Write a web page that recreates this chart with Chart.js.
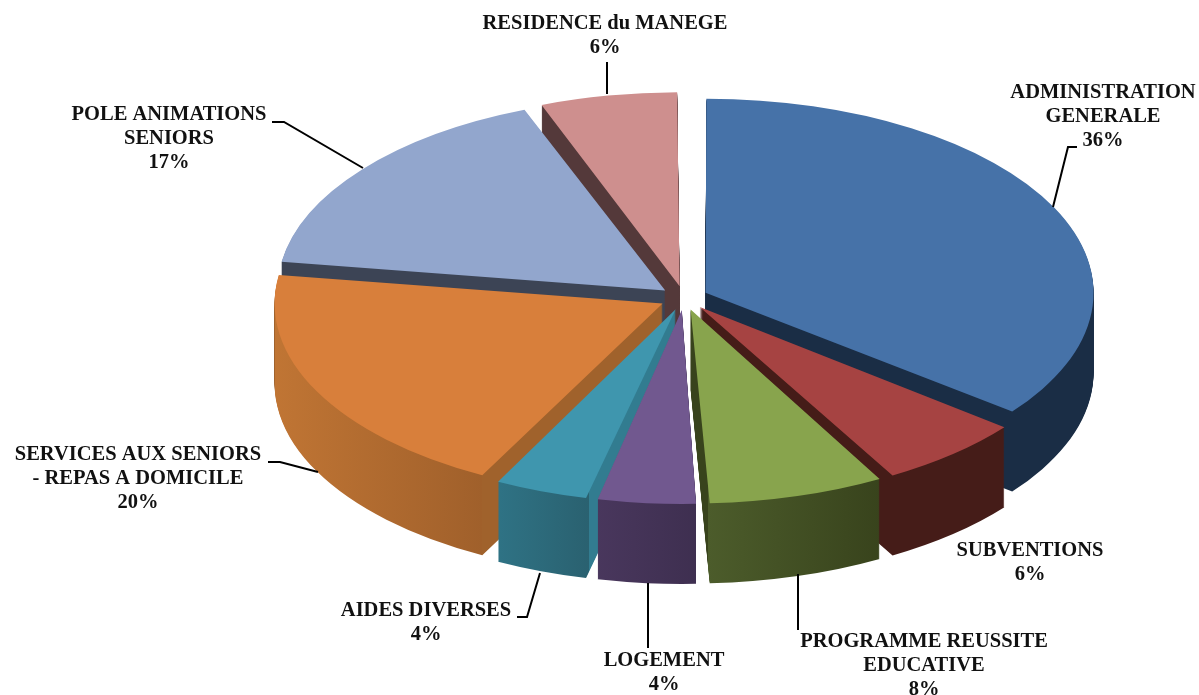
<!DOCTYPE html>
<html lang="fr">
<head>
  <meta charset="UTF-8" />
  <title>Répartition des dépenses</title>
  <script src="https://cdn.jsdelivr.net/npm/chart.js"></script>
  <style>
    html, body { margin: 0; padding: 0; background: #fff; overflow: hidden; }
    canvas { display: block; }
  </style>
</head>
<body>
<canvas id="pie" width="1199" height="695"></canvas>

<script>
  const categories = ['ADMINISTRATION GENERALE', 'SUBVENTIONS', 'PROGRAMME REUSSITE EDUCATIVE', 'LOGEMENT', 'AIDES DIVERSES', 'SERVICES AUX SENIORS - REPAS A DOMICILE', 'POLE ANIMATIONS SENIORS', 'RESIDENCE du MANEGE'];
  // shares, the labels show them rounded
  const values = [35.6, 6.3, 7.5, 4.3, 4.1, 19.7, 16.8, 5.9];
  const topColors = ['#4672a8', '#a64342', '#88a44d', '#71588f', '#3f96ae', '#d87f3b', '#92a6cd', '#ce8f8e'];
  const sideLeft = ['#1a2d45', '#451c18', '#4c5c2b', '#49375d', '#2f7385', '#c07534', '#3c4455', '#54393a'];
  const sideRight = ['#1a2d45', '#451c18', '#38431c', '#3e2f50', '#2a6170', '#a0602b', '#3c4455', '#54393a'];
  const sideCut = ['#1a2d45', '#451c18', '#38431c', '#49375d', '#327c90', '#a0622c', '#3c4455', '#54393a'];

  // pseudo 3D: the pie is squashed and extruded
  const centerX = 684, centerY = 298, squash = 0.5, depth = 80;
  const radius = 388, explode = 24;
  const drawOrder = [7, 6, 0, 5, 1, 4, 2, 3];

  const labelLines = [
    ['ADMINISTRATION', 'GENERALE'], ['SUBVENTIONS'], ['PROGRAMME REUSSITE', 'EDUCATIVE'], ['LOGEMENT'],
    ['AIDES DIVERSES'], ['SERVICES AUX SENIORS', '- REPAS A DOMICILE'], ['POLE ANIMATIONS', 'SENIORS'], ['RESIDENCE du MANEGE']
  ];
  const labelX = [1103, 1030, 924, 664, 426, 138, 169, 605];
  const labelY = [93, 551, 642, 661, 611, 455, 115, 24];
  const leaders = [
    [[1053, 207], [1068, 147], [1077, 147]],
    [],
    [[798, 574], [798, 630]],
    [[648, 583], [648, 648]],
    [[540, 573], [527, 617], [517, 617]],
    [[268, 462], [280, 462], [318, 472]],
    [[272, 122], [284, 122], [363, 168]],
    [[607, 62], [607, 94]]
  ];

  function sideGradient(ctx, arc, i) {
    let lo = Infinity, hi = -Infinity;
    for (let s = 0; s <= 240; s++) {
      const a = arc.startAngle + (arc.endAngle - arc.startAngle) * s / 240;
      const x = arc.x + arc.outerRadius * Math.cos(a);
      lo = Math.min(lo, x);
      hi = Math.max(hi, x);
    }
    // the cut faces sit outside the outer wall's x range
    const pad = 200, span = hi - lo + 2 * pad;
    const g = ctx.createLinearGradient(lo - pad, 0, hi + pad, 0);
    g.addColorStop(0, sideCut[i]);
    g.addColorStop(pad / span, sideCut[i]);
    g.addColorStop(pad / span, sideLeft[i]);
    g.addColorStop(1 - pad / span, sideRight[i]);
    g.addColorStop(1 - pad / span, sideCut[i]);
    g.addColorStop(1, sideCut[i]);
    return g;
  }

  const pie3d = {
    id: 'pie3d',
    beforeDatasetDraw(chart, args) {
      const ctx = chart.ctx;
      const arcs = args.meta.data;
      const midX = arcs[0].x, midY = arcs[0].y;
      const place = d => {
        ctx.setTransform(1, 0, 0, 1, 0, 0);
        ctx.translate(centerX, centerY + d);
        ctx.scale(1, squash);
        ctx.translate(-midX, -midY);
      };
      ctx.save();
      drawOrder.forEach(i => {
        const arc = arcs[i];
        // the arc element grows small exploded slices, take that back out
        const grow = explode * (1 - Math.sin(Math.min(Math.PI, arc.circumference)));
        const top = Object.create(arc);
        top.outerRadius = arc.outerRadius - grow;
        const side = Object.create(top);
        side.options = Object.assign({}, arc.options, { backgroundColor: sideGradient(ctx, arc, i) });
        for (let d = depth; d > 0; d--) {
          place(d);
          side.draw(ctx);
        }
        place(0);
        top.draw(ctx);
      });
      ctx.restore();
      return false;
    },
    afterDraw(chart) {
      const ctx = chart.ctx;
      ctx.save();
      ctx.strokeStyle = '#000';
      ctx.lineWidth = 2;
      leaders.forEach(pts => {
        if (!pts.length) return;
        ctx.beginPath();
        pts.forEach((p, k) => k ? ctx.lineTo(p[0], p[1]) : ctx.moveTo(p[0], p[1]));
        ctx.stroke();
      });
      ctx.fillStyle = '#111';
      ctx.font = 'bold 20.5px "Liberation Serif"';
      ctx.textAlign = 'center';
      ctx.textBaseline = 'middle';
      labelLines.forEach((lines, i) => {
        const rows = lines.concat(Math.round(values[i]) + '%');
        rows.forEach((t, k) => ctx.fillText(t, labelX[i], labelY[i] + k * 24));
      });
      ctx.restore();
    }
  };

  new Chart(document.getElementById('pie'), {
    type: 'pie',
    data: {
      labels: categories,
      datasets: [{
        data: values,
        backgroundColor: topColors,
        borderWidth: 0,
        offset: explode * 4   // arc element divides the offset by 4
      }]
    },
    options: {
      responsive: false,
      animation: false,
      radius: radius,
      layout: { padding: 0 },
      plugins: { legend: { display: false }, tooltip: { enabled: false } }
    },
    plugins: [pie3d]
  });
</script>
</body>
</html>
